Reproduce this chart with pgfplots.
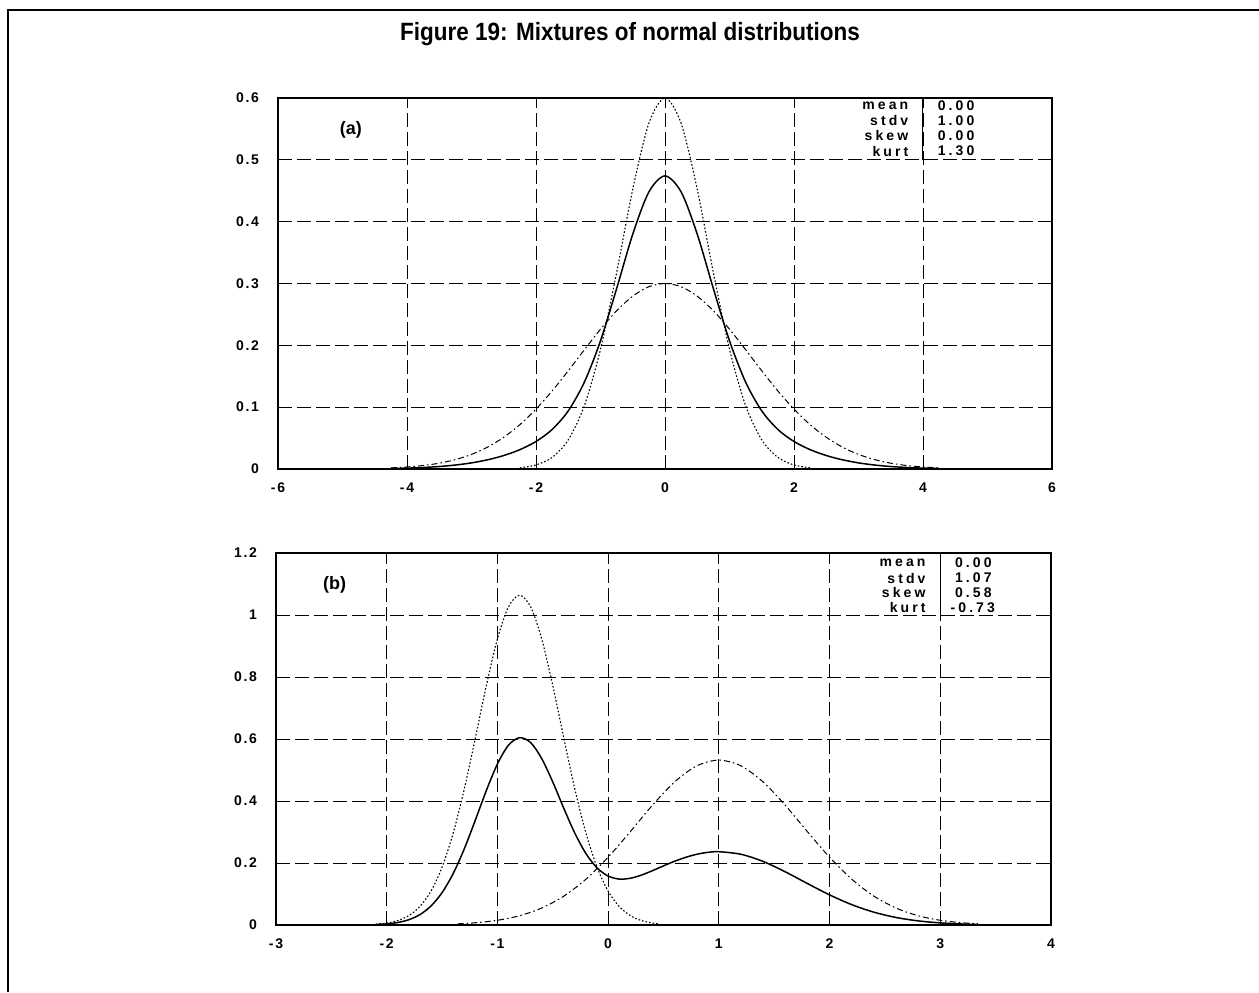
\documentclass[border=0pt]{standalone}
\usepackage{fontspec}
\setmainfont{Liberation Sans}
\newfontfamily\tickfont{Liberation Sans}[LetterSpace=12]
\newfontfamily\statfont{Liberation Sans}[LetterSpace=22]
\usepackage{graphicx}
\usepackage{pgfplots}
\pgfplotsset{compat=1.18}

\pgfplotsset{
  mixstyle/.style={
    scale only axis,
    anchor=south west,
    axis line style={line width=0.7pt},
    major tick length=0pt,
    grid=major,
    major grid style={black, line width=0.45pt, dash pattern=on 7pt off 2.5pt},
    tick label style={font=\fontsize{7}{8}\selectfont\tickfont\bfseries},
    xticklabel style={yshift=-3.5pt},
    yticklabel style={xshift=-6pt},
  },
  solidc/.style={black, line width=0.75pt, smooth},
  dotc/.style={black, line width=0.55pt, dash pattern=on 0.8pt off 1pt, smooth},
  dashdotc/.style={black, line width=0.5pt, dash pattern=on 3pt off 1.5pt on 0.8pt off 1.5pt, smooth},
}
\newcommand{\stat}{\fontsize{7}{8}\selectfont\statfont\bfseries}

\begin{document}
\begin{tikzpicture}
\useasboundingbox (0,0) rectangle (629.5pt,496pt);
\draw[line width=1.2pt] (4pt,0) -- (4pt,491pt) -- (640pt,491pt);
\node[font=\fontsize{12.5}{14}\selectfont\bfseries] at (315pt,479pt) {\scalebox{0.9}[1]{Figure 19: Mixtures of normal distributions}};

% (a) mixture of two zero-mean normals
\begin{axis}[mixstyle,
  at={(139pt,261.5pt)},
  width=387pt, height=185.5pt,
  xmin=-6, xmax=6, ymin=0, ymax=0.6,
  xtick={-6,-4,-2,0,2,4,6},
  xticklabels={-6,-4,-2,0,2,4,6},
  ytick={0,0.1,0.2,0.3,0.4,0.5,0.6},
  yticklabels={0,0.1,0.2,0.3,0.4,0.5,0.6},
]
\addplot[dotc] coordinates {(-2.25,0.0020) (-2,0.0065) (-1.75,0.0188) (-1.5,0.0471) (-1.25,0.1025) (-1,0.1937) (-0.75,0.3176) (-0.5,0.4523) (-0.25,0.5591) (0,0.6) (0.25,0.5591) (0.5,0.4523) (0.75,0.3176) (1,0.1937) (1.25,0.1025) (1.5,0.0471) (1.75,0.0188) (2,0.0065) (2.25,0.0020)};
\addplot[dashdotc] coordinates {(-4.25,0.0018) (-4,0.0033) (-3.75,0.0056) (-3.5,0.0094) (-3.25,0.0152) (-3,0.0236) (-2.75,0.0354) (-2.5,0.0513) (-2.25,0.0717) (-2,0.0968) (-1.75,0.1262) (-1.5,0.1588) (-1.25,0.1929) (-1,0.2261) (-0.75,0.2559) (-0.5,0.2795) (-0.25,0.2948) (0,0.3) (0.25,0.2948) (0.5,0.2795) (0.75,0.2559) (1,0.2261) (1.25,0.1929) (1.5,0.1588) (1.75,0.1262) (2,0.0968) (2.25,0.0717) (2.5,0.0513) (2.75,0.0354) (3,0.0236) (3.25,0.0152) (3.5,0.0094) (3.75,0.0056) (4,0.0033) (4.25,0.0018)};
\addplot[solidc] coordinates {(-4.25,0.0008) (-4,0.0014) (-3.75,0.0024) (-3.5,0.0040) (-3.25,0.0064) (-3,0.0099) (-2.75,0.0149) (-2.5,0.0218) (-2.25,0.0313) (-2,0.0445) (-1.75,0.0639) (-1.5,0.0940) (-1.25,0.1405) (-1,0.2073) (-0.75,0.2917) (-0.5,0.3797) (-0.25,0.4481) (0,0.474) (0.25,0.4481) (0.5,0.3797) (0.75,0.2917) (1,0.2073) (1.25,0.1405) (1.5,0.0940) (1.75,0.0639) (2,0.0445) (2.25,0.0313) (2.5,0.0218) (2.75,0.0149) (3,0.0099) (3.25,0.0064) (3.5,0.0040) (3.75,0.0024) (4,0.0014) (4.25,0.0008)};
\draw[line width=0.5pt] (axis cs:4,0.5) -- (axis cs:4,0.6);
\node[font=\fontsize{9}{10}\selectfont\bfseries] at (axis cs:-4.87,0.549) {(a)};
\node[anchor=east, font=\stat] at (axis cs:3.88,0.587) {mean};
\node[anchor=east, font=\stat] at (axis cs:3.88,0.563) {stdv};
\node[anchor=east, font=\stat] at (axis cs:3.88,0.539) {skew};
\node[anchor=east, font=\stat] at (axis cs:3.88,0.514) {kurt};
\node[anchor=west, font=\stat] at (axis cs:4.12,0.587) {0.00};
\node[anchor=west, font=\stat] at (axis cs:4.12,0.563) {1.00};
\node[anchor=west, font=\stat] at (axis cs:4.12,0.539) {0.00};
\node[anchor=west, font=\stat] at (axis cs:4.12,0.514) {1.30};
\end{axis}

% (b) mixture with separated means
\begin{axis}[mixstyle,
  at={(138pt,33.5pt)},
  width=387.5pt, height=186pt,
  xmin=-3, xmax=4, ymin=0, ymax=1.2,
  xtick={-3,-2,-1,0,1,2,3,4},
  xticklabels={-3,-2,-1,0,1,2,3,4},
  ytick={0,0.2,0.4,0.6,0.8,1,1.2},
  yticklabels={0,0.2,0.4,0.6,0.8,1,1.2},
]
\addplot[dotc] coordinates {(-2.1,0.0026) (-2.0,0.0064) (-1.9,0.0144) (-1.8,0.0304) (-1.7,0.0597) (-1.6,0.1093) (-1.5,0.1863) (-1.4,0.2958) (-1.3,0.4373) (-1.2,0.6023) (-1.1,0.7725) (-1.0,0.9228) (-0.9,1.0266) (-0.8,1.0638) (-0.7,1.0266) (-0.6,0.9228) (-0.5,0.7725) (-0.4,0.6023) (-0.3,0.4373) (-0.2,0.2958) (-0.1,0.1863) (0.0,0.1093) (0.1,0.0597) (0.2,0.0304) (0.3,0.0144) (0.4,0.0064) (0.46,0.0038)};
\addplot[dashdotc] coordinates {(-1.36,0.0038) (-1.2,0.0072) (-1.0,0.0152) (-0.8,0.0299) (-0.6,0.0547) (-0.4,0.0932) (-0.2,0.1479) (0.0,0.2187) (0.2,0.3011) (0.4,0.3862) (0.6,0.4614) (0.8,0.5133) (1.0,0.5319) (1.2,0.5133) (1.4,0.4614) (1.6,0.3862) (1.8,0.3011) (2.0,0.2187) (2.2,0.1479) (2.4,0.0932) (2.6,0.0547) (2.8,0.0299) (3.0,0.0152) (3.2,0.0072) (3.34,0.0041)};
\addplot[solidc] coordinates {(-2.1,0.0015) (-2.0,0.0036) (-1.9,0.0081) (-1.8,0.0171) (-1.7,0.0335) (-1.6,0.0613) (-1.5,0.1044) (-1.4,0.1657) (-1.3,0.2451) (-1.2,0.3378) (-1.1,0.4339) (-1.0,0.5195) (-0.9,0.5800) (-0.8,0.6043) (-0.7,0.5885) (-0.6,0.5370) (-0.5,0.4612) (-0.4,0.3760) (-0.3,0.2956) (-0.2,0.2301) (-0.1,0.1841) (0.0,0.1579) (0.1,0.1482) (0.2,0.1507) (0.3,0.1609) (0.4,0.1752) (0.5,0.1907) (0.6,0.2056) (0.7,0.2182) (0.8,0.2281) (0.9,0.2343) (1.0,0.2364) (1.2,0.2281) (1.4,0.2050) (1.6,0.1716) (1.8,0.1338) (2.0,0.0972) (2.2,0.0657) (2.4,0.0414) (2.6,0.0243) (2.8,0.0133) (3.0,0.0068) (3.2,0.0032) (3.34,0.0018)};
\draw[line width=0.5pt] (axis cs:3,1) -- (axis cs:3,1.2);
\node[font=\fontsize{9}{10}\selectfont\bfseries] at (axis cs:-2.47,1.097) {(b)};
\node[anchor=east, font=\stat] at (axis cs:2.93,1.168) {mean};
\node[anchor=east, font=\stat] at (axis cs:2.93,1.119) {stdv};
\node[anchor=east, font=\stat] at (axis cs:2.93,1.071) {skew};
\node[anchor=east, font=\stat] at (axis cs:2.93,1.023) {kurt};
\node[anchor=west, font=\stat] at (axis cs:3.07,1.168) {0.00};
\node[anchor=west, font=\stat] at (axis cs:3.07,1.119) {1.07};
\node[anchor=west, font=\stat] at (axis cs:3.07,1.071) {0.58};
\node[anchor=west, font=\stat] at (axis cs:3.03,1.023) {-0.73};
\end{axis}
\end{tikzpicture}
\end{document}
